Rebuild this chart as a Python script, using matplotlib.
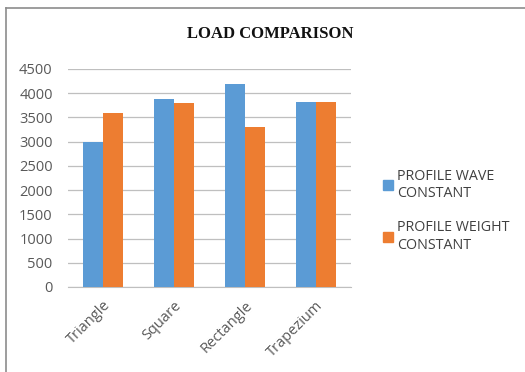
import numpy as np
import matplotlib
matplotlib.use("Agg")
import matplotlib.pyplot as plt
from matplotlib.patches import Patch
from matplotlib.lines import Line2D

categories = ["Triangle", "Square", "Rectangle", "Trapezium"]
wave_constant = [3000, 3880, 4200, 3820]
weight_constant = [3600, 3800, 3300, 3820]
series_labels = ["PROFILE WAVE\nCONSTANT", "PROFILE WEIGHT\nCONSTANT"]

blue = "#5B9BD5"
orange = "#ED7D31"
text_gray = "#595959"

plt.rcParams["font.family"] = ["Open Sans", "DejaVu Sans"]

fig = plt.figure(figsize=(5.25, 3.72), dpi=100)
ax = fig.add_axes([68 / 525, 85 / 372, 283 / 525, 218 / 372])

x = np.arange(len(categories))
w = 0.283
ax.bar(x - w / 2, wave_constant, w, color=blue, zorder=3)
ax.bar(x + w / 2, weight_constant, w, color=orange, zorder=3)

ax.set_xlim(-0.5, len(categories) - 0.5)
ax.set_ylim(0, 4500)
ax.set_yticks(np.arange(0, 4501, 500))
ax.yaxis.grid(True, color="#bfbfbf", linewidth=0.9, zorder=0)
ax.set_xticks(x)
ax.set_xticklabels(categories, rotation=45, ha="right", rotation_mode="anchor")
ax.tick_params(axis="both", length=0, labelsize=10.5, colors=text_gray)
ax.tick_params(axis="y", pad=11)
ax.tick_params(axis="x", pad=8)
for side in ["top", "right", "left"]:
    ax.spines[side].set_visible(False)
ax.spines["bottom"].set_color("#bfbfbf")

fig.text(0.515, 0.908, "LOAD COMPARISON", ha="center", va="center",
         family="Liberation Serif", fontweight="bold", fontsize=12, color="#111111")

handles = [Patch(color=blue), Patch(color=orange)]
fig.legend(handles, series_labels, loc="upper left", bbox_to_anchor=(370 / 525, 1 - 156 / 372),
           frameon=False, handlelength=0.7, handleheight=0.7, handletextpad=0.3,
           labelspacing=1.35, prop={"size": 10.3}, labelcolor="#404040")

# chart outline
fig.add_artist(Line2D([6 / 525, 1], [1 - 8 / 372, 1 - 8 / 372], transform=fig.transFigure,
                      color="#8c8c8c", linewidth=1.2))
fig.add_artist(Line2D([6 / 525, 6 / 525], [0, 1 - 8 / 372], transform=fig.transFigure,
                      color="#8c8c8c", linewidth=1.2))

fig.savefig("out.png", dpi=100)
